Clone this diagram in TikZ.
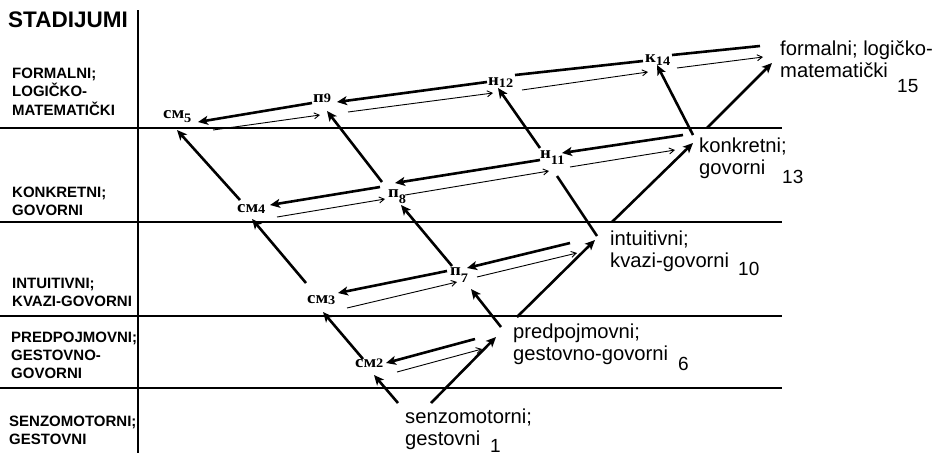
\documentclass[tikz,border=0pt]{standalone}
\usepackage{fontspec}
\setmainfont{Liberation Sans}
\newfontfamily\cyrfont[FakeStretch=1.1]{Liberation Serif}
\usetikzlibrary{arrows.meta}
\newcommand{\idx}[3][2]{{\cyrfont\bfseries #2\raisebox{-#1pt}{\fontsize{13}{13}\selectfont #3}}}
\newcommand{\rows}[1]{\begin{tabular}[t]{@{}l@{}}#1\end{tabular}}

\begin{document}
\begin{tikzpicture}[
  x=1pt, y=-1pt,
  grid/.style={line width=1.8pt},
  lvl/.style={anchor=base west, inner sep=0pt, font=\fontsize{15}{18.3}\selectfont\bfseries},
  stage/.style={anchor=base west, inner sep=0pt, font=\fontsize{20.2}{22}\selectfont},
  num/.style={anchor=base west, inner sep=0pt, font=\fontsize{19}{20}\selectfont},
  cyr/.style={anchor=base west, inner sep=0pt, font=\fontsize{17}{18}\selectfont},
  thickline/.style={line width=2.6pt},
  climb/.style={thickline, -{Stealth[length=10pt,width=9pt,inset=2.5pt]}},
  backarr/.style={climb},
  fwdarr/.style={line width=0.9pt, -{Straight Barb[length=5pt,width=6pt]}}]
\useasboundingbox (0,0) rectangle (941,456);

% table of stages
\draw[grid] (138,10) -- (138,453);
\foreach \y in {128,222,316,388} \draw[grid] (0,\y) -- (782,\y);

\node (title) [lvl, font=\fontsize{22.5}{24}\selectfont\bfseries] at (8,27) {STADIJUMI};
\node (lvl5) [lvl] at (12,78) {\rows{FORMALNI;\\LOGIČKO-\\MATEMATIČKI}};
\node (lvl4) [lvl] at (12,197) {\rows{KONKRETNI;\\GOVORNI}};
\node (lvl3) [lvl] at (12,288) {\rows{INTUITIVNI;\\KVAZI-GOVORNI}};
\node (lvl2) [lvl] at (11,342) {\rows{PREDPOJMOVNI;\\GESTOVNO-\\GOVORNI}};
\node (lvl1) [lvl] at (9,426) {\rows{SENZOMOTORNI;\\GESTOVNI}};

% stages on the right
\node (st1)  [stage] at (405,423) {\rows{senzomotorni;\\gestovni}};
\node (st6)  [stage] at (513,338) {\rows{predpojmovni;\\gestovno-govorni}};
\node (st10) [stage] at (610,245) {\rows{intuitivni;\\kvazi-govorni}};
\node (st13) [stage] at (699,152) {\rows{konkretni;\\govorni}};
\node (st15) [stage] at (780,55)  {\rows{formalni; logičko-\\matematički}};

\node (nr1)  [num] at (490,452) {1};
\node (nr6)  [num] at (678,370) {6};
\node (nr10) [num] at (738,275) {10};
\node (nr13) [num] at (782,183) {13};
\node (nr15) [num] at (897,92)  {15};

% intermediate points
\node (cm2) [cyr] at (355,367) {\idx[0]{см}{2}};
\node (cm3) [cyr] at (307,303) {\idx[1]{см}{3}};
\node (cm4) [cyr] at (237,212) {\idx[1]{см}{4}};
\node (cm5) [cyr] at (163,118) {\idx[4]{см}{5}};
\node (p7)  [cyr] at (450,275) {\idx[7]{п}{7}};
\node (p8)  [cyr] at (388,197) {\idx[6]{п}{8}};
\node (p9)  [cyr] at (313,102) {\idx[0]{п}{9}};
\node (n11) [cyr] at (540,158) {\idx[6]{н}{11}};
\node (n12) [cyr] at (488,85)  {\idx[2]{н}{12}};
\node (k14) [cyr] at (645,62)  {\idx[3]{к}{14}};

% upward arrows
\draw[climb] ([shift={(-7,-20)}]st1.base west) -- ([shift={(19,8)}]cm2.base west);
\draw[climb] ([shift={(26,-20)}]st1.base west) -- ([shift={(-17,-1)}]st6.base west);
\draw[climb] ([shift={(8,-8)}]cm2.base west) -- ([shift={(16,9)}]cm3.base west);
\draw[climb] ([shift={(-12,-11)}]st6.base west) -- ([shift={(21,14)}]p7.base west);
\draw[climb] ([shift={(4,-21)}]st6.base west) -- ([shift={(-15,-5)}]st10.base west);
\draw[climb] ([shift={(-1,-20)}]cm3.base west) -- ([shift={(15,7)}]cm4.base west);
\draw[climb] ([shift={(3,-12)}]cm4.base west) -- ([shift={(14,12)}]cm5.base west);
\draw[climb] ([shift={(2,-9)}]p7.base west) -- ([shift={(13,8)}]p8.base west);
\draw[climb] ([shift={(-6,-15)}]p8.base west) -- ([shift={(14,9)}]p9.base west);
\draw[thickline] ([shift={(-13,-9)}]st10.base west) -- ([shift={(17,18)}]n11.base west);
\draw[climb] ([shift={(0,-10)}]n11.base west) -- ([shift={(10,3)}]n12.base west);
\draw[climb] ([shift={(2,-23)}]st10.base west) -- ([shift={(-6,-9)}]st13.base west);
\draw[climb] ([shift={(-6,-17)}]st13.base west) -- ([shift={(12,3)}]k14.base west);
\draw[climb] ([shift={(8,-24)}]st13.base west) -- ([shift={(-8,8)}]st15.base west);

% back and forth within a level
\draw[backarr] ([shift={(-38,1)}]st6.base west) -- ([shift={(31,-4)}]cm2.base west);
\draw[fwdarr] ([shift={(42,5)}]cm2.base west) -- ([shift={(-31,11)}]st6.base west);
\draw[backarr] ([shift={(-3,-4)}]p7.base west) -- ([shift={(31,-10)}]cm3.base west);
\draw[fwdarr] ([shift={(40,5)}]cm3.base west) -- ([shift={(7,7)}]p7.base west);
\draw[backarr] ([shift={(-40,-2)}]st10.base west) -- ([shift={(17,-7)}]p7.base west);
\draw[fwdarr] ([shift={(27,2)}]p7.base west) -- ([shift={(-33,8)}]st10.base west);
\draw[backarr] ([shift={(-8,-10)}]p8.base west) -- ([shift={(33,-7)}]cm4.base west);
\draw[fwdarr] ([shift={(40,5)}]cm4.base west) -- ([shift={(-3,2)}]p8.base west);
\draw[backarr] ([shift={(0,2)}]n11.base west) -- ([shift={(7,-14)}]p8.base west);
\draw[fwdarr] ([shift={(17,-2)}]p8.base west) -- ([shift={(9,13)}]n11.base west);
\draw[backarr] ([shift={(-16,-17)}]st13.base west) -- ([shift={(22,-5)}]n11.base west);
\draw[fwdarr] ([shift={(30,9)}]n11.base west) -- ([shift={(-24,-2)}]st13.base west);
\draw[backarr] ([shift={(-1,1)}]p9.base west) -- ([shift={(35,4)}]cm5.base west);
\draw[fwdarr] ([shift={(50,12)}]cm5.base west) -- ([shift={(7,13)}]p9.base west);
\draw[backarr] ([shift={(-1,-3)}]n12.base west) -- ([shift={(24,0)}]p9.base west);
\draw[fwdarr] ([shift={(35,10)}]p9.base west) -- ([shift={(5,8)}]n12.base west);
\draw[thickline] ([shift={(-2,-1)}]k14.base west) -- ([shift={(27,-10)}]n12.base west);
\draw[fwdarr] ([shift={(34,5)}]n12.base west) -- ([shift={(3,10)}]k14.base west);
\draw[thickline] ([shift={(-20,-9)}]st15.base west) -- ([shift={(27,-7)}]k14.base west);
\draw[fwdarr] ([shift={(32,6)}]k14.base west) -- ([shift={(-17,2)}]st15.base west);
\end{tikzpicture}
\end{document}
